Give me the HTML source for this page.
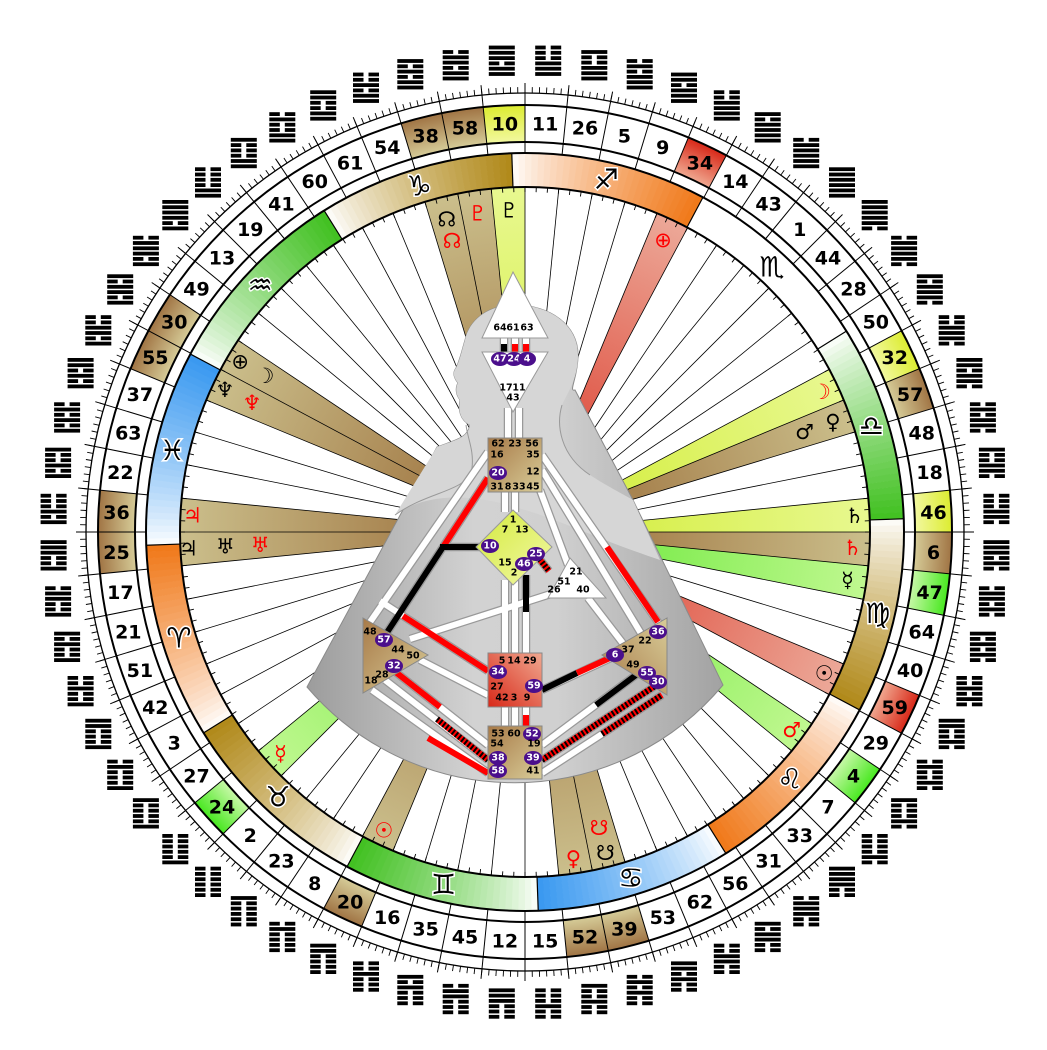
<!DOCTYPE html>
<html><head><meta charset="utf-8"><style>
html,body{margin:0;padding:0;background:#fff;}
svg{display:block;}
.gn{font-family:"DejaVu Sans","Liberation Sans",sans-serif;font-weight:bold;font-size:19px;text-anchor:middle;dominant-baseline:central;}
.sym{font-family:"DejaVu Sans","Liberation Sans",sans-serif;font-size:21px;text-anchor:middle;dominant-baseline:central;}
.zod{font-family:"DejaVu Sans","Liberation Sans",sans-serif;font-weight:bold;font-size:28px;text-anchor:middle;dominant-baseline:central;stroke:#fff;stroke-width:3px;paint-order:stroke;fill:#000;}
.bl{font-family:"DejaVu Sans","Liberation Sans",sans-serif;font-weight:bold;font-size:9.5px;text-anchor:middle;dominant-baseline:central;fill:#000;}
.pl{font-family:"DejaVu Sans","Liberation Sans",sans-serif;font-weight:bold;font-size:9.5px;text-anchor:middle;dominant-baseline:central;fill:#fff;}
</style></head><body>
<svg id="s" width="1047" height="1050" viewBox="0 0 1047 1050" xmlns="http://www.w3.org/2000/svg">
<defs>
<linearGradient id="cone" x1="0" y1="0" x2="1" y2="0">
<stop offset="0" stop-color="#9c9c9c"/><stop offset="0.4" stop-color="#d2d2d2"/><stop offset="0.6" stop-color="#d0d0d0"/><stop offset="1" stop-color="#a2a2a2"/></linearGradient>
<linearGradient id="gY" x1="0" y1="0" x2="1" y2="1"><stop offset="0" stop-color="#d4ea3c"/><stop offset="1" stop-color="#f2f8a8"/></linearGradient>
<linearGradient id="gB" x1="0" y1="0" x2="1" y2="1"><stop offset="0" stop-color="#a87a48"/><stop offset="1" stop-color="#d8cc98"/></linearGradient>
<linearGradient id="gB2" x1="1" y1="0" x2="0" y2="1"><stop offset="0" stop-color="#d8cc98"/><stop offset="1" stop-color="#a87a48"/></linearGradient>
<linearGradient id="gR" x1="0" y1="1" x2="1" y2="0"><stop offset="0" stop-color="#d82818"/><stop offset="1" stop-color="#f0a890"/></linearGradient>
<radialGradient id="cY" gradientUnits="userSpaceOnUse" cx="525" cy="532" r="427"><stop offset="0.913" stop-color="#f2f8a0"/><stop offset="1" stop-color="#dcec30"/></radialGradient>
<radialGradient id="cB" gradientUnits="userSpaceOnUse" cx="525" cy="532" r="427"><stop offset="0.913" stop-color="#d6cc98"/><stop offset="1" stop-color="#a07444"/></radialGradient>
<radialGradient id="cR" gradientUnits="userSpaceOnUse" cx="525" cy="532" r="427"><stop offset="0.913" stop-color="#f0a890"/><stop offset="1" stop-color="#d82818"/></radialGradient>
<radialGradient id="cG" gradientUnits="userSpaceOnUse" cx="525" cy="532" r="427"><stop offset="0.913" stop-color="#c8f8a8"/><stop offset="1" stop-color="#48e820"/></radialGradient>
<radialGradient id="wY" gradientUnits="userSpaceOnUse" cx="525" cy="532" r="345"><stop offset="0.35" stop-color="#d8f050"/><stop offset="1" stop-color="#e8f890"/></radialGradient>
<radialGradient id="wB" gradientUnits="userSpaceOnUse" cx="525" cy="532" r="345"><stop offset="0.35" stop-color="#a88450"/><stop offset="1" stop-color="#cbbf8c"/></radialGradient>
<radialGradient id="wR" gradientUnits="userSpaceOnUse" cx="525" cy="532" r="345"><stop offset="0.35" stop-color="#e05848"/><stop offset="1" stop-color="#eca898"/></radialGradient>
<radialGradient id="wG" gradientUnits="userSpaceOnUse" cx="525" cy="532" r="345"><stop offset="0.35" stop-color="#80ec50"/><stop offset="1" stop-color="#c0f890"/></radialGradient>
</defs>
<g id="ring"></g>
<g id="body">
<path d="M307,687 L437,447 C455,440 468,438 470,425 C460,420 458,410 460,400 C456,395 455,388 458,383 C454,378 452,373 456,368 C460,360 462,350 465,340 C470,318 490,305 515,305 C550,305 578,325 578,355 C578,378 568,392 575,390 L633,500 L723,685 A272 272 0 0 1 307,687 Z" fill="url(#cone)" stroke="#8a8a8a" stroke-width="1"/>
<path d="M437,447 C455,440 468,438 470,425 C460,420 458,410 460,400 C456,395 455,388 458,383 C454,378 452,373 456,368 C460,360 462,350 465,340 C470,318 490,305 515,305 C550,305 578,325 578,355 C578,378 568,392 562,405 C556,425 560,455 590,475 C610,488 625,495 633,500 L660,560 C600,540 560,520 525,510 C480,495 430,490 395,515 Z" fill="#d6d6d6" stroke="none"/>
<path d="M395,515 C430,490 468,492 472,468 C474,450 468,440 466,425 M562,405 C556,425 560,455 590,475" fill="none" stroke="#999" stroke-width="1"/>
<g id="chan"></g>
<polygon points="513,272 548,338 482,338" fill="#fff" stroke="#999"/>
<polygon points="482,352 548,352 513,412" fill="#fff" stroke="#999"/>
<rect x="488" y="438" width="54" height="54" fill="url(#gB)" stroke="#888"/>
<polygon points="513,510 552,547 513,585 476,547" fill="url(#gY)" stroke="#999"/>
<polygon points="548,598 570,558 606,598" fill="#fff" stroke="#999"/>
<polygon points="363,618 428,655 363,693" fill="url(#gB)" stroke="#888"/>
<rect x="488" y="653" width="54" height="54" fill="url(#gR)" stroke="#888"/>
<rect x="488" y="726" width="54" height="53" fill="url(#gB)" stroke="#888"/>
<polygon points="667,618 602,655 667,695" fill="url(#gB2)" stroke="#888"/>
<g id="lbl"></g>
</g>
</svg>
<script>
(function(){
var cx=525,cy=532;
function P(r,a0){var a=a0*Math.PI/180;return (cx+r*Math.sin(a)).toFixed(1)+","+(cy-r*Math.cos(a)).toFixed(1);}
function XY(r,a0){var a=a0*Math.PI/180;return [cx+r*Math.sin(a),cy-r*Math.cos(a)];}
function sec(r1,r2,a1,a2){var lg=(a2-a1)>180?1:0;return "M"+P(r2,a1)+" A"+r2+" "+r2+" 0 "+lg+" 1 "+P(r2,a2)+" L"+P(r1,a2)+" A"+r1+" "+r1+" 0 "+lg+" 0 "+P(r1,a1)+"Z";}
var G=[10,11,26,5,9,34,14,43,1,44,28,50,32,57,48,18,46,6,47,64,40,59,29,4,7,33,31,56,62,53,39,52,15,12,45,35,16,20,8,23,2,24,27,3,42,51,21,17,25,36,22,63,37,55,30,49,13,19,41,60,61,54,38,58];
var HX={1:"111111",2:"000000",3:"100010",4:"010001",5:"111010",6:"010111",7:"010000",8:"000010",9:"111011",10:"110111",11:"111000",12:"000111",13:"101111",14:"111101",15:"001000",16:"000100",17:"100110",18:"011001",19:"110000",20:"000011",21:"100101",22:"101001",23:"000001",24:"100000",25:"100111",26:"111001",27:"100001",28:"011110",29:"010010",30:"101101",31:"001110",32:"011100",33:"001111",34:"111100",35:"000101",36:"101000",37:"101011",38:"110101",39:"001010",40:"010100",41:"110001",42:"100011",43:"111110",44:"011111",45:"000110",46:"011000",47:"010110",48:"011010",49:"101110",50:"011101",51:"100100",52:"001001",53:"001011",54:"110100",55:"101100",56:"001101",57:"011011",58:"110110",59:"010011",60:"110010",61:"110011",62:"001100",63:"101010",64:"010101"};
var cell={10:"Y",58:"B",38:"B",34:"R",32:"Y",57:"B",46:"Y",6:"B",47:"G",59:"R",4:"G",39:"B",52:"B",20:"B",24:"G",36:"B",25:"B",55:"B",30:"B"};
var W=5.625,o=[];
function idx(g){return G.indexOf(g);}
function ga(i){return [(i-1)*W,i*W];}
var Z=[["\u2650","#f07818"],["\u264F",null],["\u264E","#40c020"],["\u264D","#b08818"],["\u264C","#f07818"],["\u264B","#3898f0"],["\u264A","#40c020"],["\u2649","#b08818"],["\u2648","#f07818"],["\u2653","#3898f0"],["\u2652","#40c020"],["\u2651","#b08818"]];
function mix(c,f){var r=parseInt(c.substr(1,2),16),g=parseInt(c.substr(3,2),16),b=parseInt(c.substr(5,2),16);
return "rgb("+Math.round(255+(r-255)*f)+","+Math.round(255+(g-255)*f)+","+Math.round(255+(b-255)*f)+")";}
for(var k=0;k<12;k++){var s=-2+30*k;var col=Z[k][1];
 if(col){for(var j=0;j<30;j++){var f=Math.pow((j+0.5)/30,0.8);o.push('<path d="'+sec(345,379,s+j,s+j+1.05)+'" fill="'+mix(col,f)+'"/>');}}
}
for(var k=0;k<12;k++){var s=-2+30*k;var p=XY(379,s),q=XY(345,s);o.push('<line x1="'+p[0]+'" y1="'+p[1]+'" x2="'+q[0]+'" y2="'+q[1]+'" stroke="#000" stroke-width="1.2"/>');}
for(var i=0;i<64;i++){var g=G[i],a=ga(i);if(cell[g])o.push('<path d="'+sec(390,427,a[0],a[1])+'" fill="url(#c'+cell[g]+')"/>');}
for(var i=0;i<64;i++){var g=G[i],a=ga(i);if(cell[g])o.push('<path d="'+sec(60,345,a[0],a[1])+'" fill="url(#w'+cell[g]+')"/>');}
for(var i=0;i<64;i++){var a=i*W;var p=XY(345,a),q=XY(60,a);o.push('<line x1="'+p[0].toFixed(1)+'" y1="'+p[1].toFixed(1)+'" x2="'+q[0].toFixed(1)+'" y2="'+q[1].toFixed(1)+'" stroke="#000" stroke-width="0.8"/>');
 p=XY(379,a);q=XY(449,a);o.push('<line x1="'+p[0].toFixed(1)+'" y1="'+p[1].toFixed(1)+'" x2="'+q[0].toFixed(1)+'" y2="'+q[1].toFixed(1)+'" stroke="#000" stroke-width="1"/>');}
for(var i=0;i<384;i++){var a=i*W/6;var p=XY(439,a),q=XY(445,a);o.push('<line x1="'+p[0].toFixed(1)+'" y1="'+p[1].toFixed(1)+'" x2="'+q[0].toFixed(1)+'" y2="'+q[1].toFixed(1)+'" stroke="#000" stroke-width="0.9"/>');}
for(var i=0;i<192;i++){var a=i*W/3;var p=XY(345,a),q=XY(340,a);o.push('<line x1="'+p[0].toFixed(1)+'" y1="'+p[1].toFixed(1)+'" x2="'+q[0].toFixed(1)+'" y2="'+q[1].toFixed(1)+'" stroke="#000" stroke-width="0.9"/>');}
[[439,1.3],[427,2],[390,2],[379,2],[345,2]].forEach(function(c){o.push('<circle cx="525" cy="532" r="'+c[0]+'" fill="none" stroke="#000" stroke-width="'+c[1]+'"/>');});
for(var k=0;k<12;k++){var p=XY(362,-2+30*k+15);o.push('<text class="zod" x="'+p[0].toFixed(1)+'" y="'+p[1].toFixed(1)+'">'+Z[k][0]+'</text>');}
for(var i=0;i<64;i++){var g=G[i],th=(i-0.5)*W;var p=XY(409,th);o.push('<text class="gn" x="'+p[0].toFixed(1)+'" y="'+(p[1]+1).toFixed(1)+'">'+g+'</text>');
 var h=XY(472,th),hx=h[0]-13,hy=h[1]-15,b=HX[g];
 for(var L=0;L<6;L++){var yy=hy+L*5.3,bit=b.charAt(5-L);
  if(bit=="1")o.push('<rect x="'+hx.toFixed(1)+'" y="'+yy.toFixed(1)+'" width="26" height="3.8"/>');
  else o.push('<rect x="'+hx.toFixed(1)+'" y="'+yy.toFixed(1)+'" width="10.5" height="3.8"/><rect x="'+(hx+15.5).toFixed(1)+'" y="'+yy.toFixed(1)+'" width="10.5" height="3.8"/>');}}
var R="#f00",K="#000";
var S=[[38,322,"\u260A",K],[38,300,"\u260A",R],[58,322,"\u2647",R],[10,322,"\u2647",K],[34,323,"\u2295",R],[32,328,"\u263D",R],[57,327,"\u2640",K],[57,297,"\u2642",K],[46,330,"\u2644",K],[6,328,"\u2644",R],[47,326,"\u263F",K],[59,331,"\u2609",K],[4,332,"\u2642",R],[52,330,"\u2640",R],[39,331,"\u260B",K],[39,305,"\u260B",R],[20,330,"\u2609",R],[24,330,"\u263F",R],[25,337,"\u2643",K],[25,300,"\u2645",K],[25,265,"\u2645",R],[36,333,"\u2643",R],[55,332,"\u2646",K],[55,302,"\u2646",R],[30,332,"\u2295",K],[30,303,"\u263D",K]];
S.forEach(function(s){var i=idx(s[0]),th=(i-0.5)*W,p=XY(s[1],th);o.push('<text class="sym" x="'+p[0].toFixed(1)+'" y="'+p[1].toFixed(1)+'" fill="'+s[3]+'">'+s[2]+'</text>');});
document.getElementById("ring").innerHTML=o.join("");
var c=[];
function wl(x1,y1,x2,y2){c.push('<line x1="'+x1+'" y1="'+y1+'" x2="'+x2+'" y2="'+y2+'" stroke="#999" stroke-width="8.5"/>');}
function wf(x1,y1,x2,y2){c.push('<line x1="'+x1+'" y1="'+y1+'" x2="'+x2+'" y2="'+y2+'" stroke="#fff" stroke-width="6"/>');}
var CH=[[504,338,504,352],[515,338,515,352],[526,338,526,352],[508,408,508,440],[519,408,519,440],[505,490,505,512],[515,490,515,512],[505,580,505,655],[515,580,515,655],[526,575,526,655],[505,705,505,728],[515,705,515,728],[526,705,526,728],
[488,452,368,625],[488,478,443,547],[443,547,386,634],[443,547,490,547],[380,601,488,671],[410,639,557,592],[420,660,488,695],[393,670,488,745],[385,680,488,760],[372,690,488,773],
[542,745,640,672],[542,760,655,686],[542,773,662,695],[542,690,615,656],[542,455,660,625],[542,470,645,640],[540,490,568,565],[588,598,628,650],[537,556,549,571]];
CH.forEach(function(l){wl(l[0],l[1],l[2],l[3]);});
CH.forEach(function(l){wf(l[0],l[1],l[2],l[3]);});
function sg(x1,y1,x2,y2,col){if(col=="S"){c.push('<line x1="'+x1+'" y1="'+y1+'" x2="'+x2+'" y2="'+y2+'" stroke="#f00" stroke-width="6"/>');c.push('<line x1="'+x1+'" y1="'+y1+'" x2="'+x2+'" y2="'+y2+'" stroke="#000" stroke-width="6" stroke-dasharray="2 2"/>');}
else c.push('<line x1="'+x1+'" y1="'+y1+'" x2="'+x2+'" y2="'+y2+'" stroke="'+col+'" stroke-width="6"/>');}
sg(504,344,504,352,"#000");sg(515,344,515,352,"#f00");sg(526,344,526,352,"#f00");
sg(526,575,526,612,"#000");sg(526,715,526,727,"#f00");
sg(488,478,443,547,"#f00");sg(443,547,386,634,"#000");sg(440,547,490,547,"#000");
sg(403,616,488,671,"#f00");
sg(393,670,440,707,"#f00");sg(437,719,488,760,"S");sg(428,738,488,773,"#f00");
sg(542,760,655,686,"S");sg(596,705,640,672,"#000");sg(602,734,662,695,"S");
sg(542,690,577,673,"#000");sg(577,673,612,657,"#f00");
sg(607,547,658,622,"#f00");sg(537,556,549,571,"S");
document.getElementById("chan").innerHTML=c.join("");
var Lb=[];
function tx(x,y,s){Lb.push('<text class="bl" x="'+x+'" y="'+y+'">'+s+'</text>');}
function pc(x,y,s){Lb.push('<ellipse cx="'+x+'" cy="'+y+'" rx="9" ry="7" fill="#4b0f8c"/><text class="pl" x="'+x+'" y="'+y+'">'+s+'</text>');}
tx(500,328,"64");tx(513,328,"61");tx(527,328,"63");pc(500,359,"47");pc(514,359,"24");pc(527,359,"4");
tx(506,388,"17");tx(519,388,"11");tx(513,398,"43");
tx(498,444,"62");tx(515,444,"23");tx(532,444,"56");tx(497,455,"16");tx(533,455,"35");pc(498,473,"20");tx(533,472,"12");tx(497,487,"31");tx(508,487,"8");tx(519,487,"33");tx(533,487,"45");
tx(513,520,"1");tx(505,530,"7");tx(522,530,"13");pc(490,546,"10");pc(536,554,"25");tx(505,563,"15");pc(524,564,"46");tx(514,573,"2");
tx(576,572,"21");tx(564,582,"51");tx(554,590,"26");tx(583,590,"40");
tx(370,632,"48");pc(384,640,"57");tx(398,650,"44");tx(413,656,"50");pc(394,666,"32");tx(382,675,"28");tx(371,681,"18");
tx(502,661,"5");tx(514,661,"14");tx(530,661,"29");pc(498,672,"34");tx(497,687,"27");pc(534,686,"59");tx(502,698,"42");tx(514,698,"3");tx(527,698,"9");
tx(498,734,"53");tx(514,734,"60");pc(532,734,"52");tx(497,744,"54");tx(534,744,"19");pc(498,758,"38");pc(533,758,"39");pc(498,771,"58");tx(533,771,"41");
pc(658,632,"36");tx(645,641,"22");tx(628,650,"37");pc(615,655,"6");tx(633,665,"49");pc(647,673,"55");pc(658,682,"30");
document.getElementById("lbl").innerHTML=Lb.join("");
})();
</script>
</body></html>
